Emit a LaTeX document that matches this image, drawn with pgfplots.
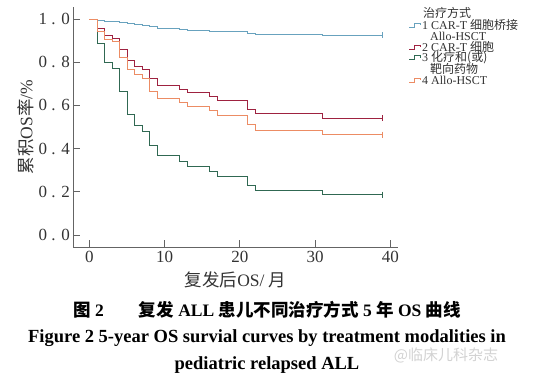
\documentclass[border=0pt]{standalone}
\usepackage{fontspec}
\setmainfont{Liberation Serif}
\newfontfamily\cjk{Noto Sans CJK SC}
\usepackage{pgfplots}
\pgfplotsset{compat=1.18}
\definecolor{cblue}{RGB}{104,162,190}
\definecolor{cred}{RGB}{158,34,64}
\definecolor{corange}{RGB}{236,140,100}
\definecolor{cgreen}{RGB}{48,104,82}
\definecolor{axgray}{RGB}{100,100,100}
\begin{document}
\begin{tikzpicture}
\path[use as bounding box] (0pt,0pt) rectangle (534pt,-382pt);
\begin{axis}[
  at={(73.3pt,-247.3pt)}, anchor=south west,
  width=324.5pt, height=240.3pt, scale only axis,
  xmin=-2.15, xmax=41, ymin=-0.057, ymax=1.056,
  axis x line=bottom, axis y line=left,
  axis line style={-, axgray, line width=0.8pt},
  tick align=inside, major tick length=7pt,
  tick style={axgray, line width=0.8pt},
  xtick={0,10,20,30,40},
  ytick={0,0.2,0.4,0.6,0.8,1.0},
  yticklabels={0 . 0,0 . 2,0 . 4,0 . 6,0 . 8,1 . 0},
  /pgf/number format/assume math mode=true,
  ticklabel style={font=\fontsize{17}{17}\selectfont, text=black!80},
  xlabel={{\cjk 复发后}OS/ {\cjk 月}},
  ylabel={{\cjk 累积}OS{\cjk 率}/\%},
  label style={font=\fontsize{17.5}{17.5}\selectfont, text=black!80},
  xlabel style={yshift=-3pt},
  ylabel style={yshift=-2pt},
  const plot mark left,
]
% 1 CAR-T + Allo-HSCT
\addplot[cblue, line width=0.8pt, const plot] coordinates {
(0,1)(1,0.995)(2,0.991)(3,0.987)(4,0.983)(5,0.979)(6,0.975)(7,0.970)(8,0.965)(9,0.958)(10,0.955)(12,0.952)(13,0.949)(16,0.945)(17,0.941)(21,0.934)(22,0.929)(31,0.925)(38.9,0.925)};
% 2 CAR-T
\addplot[cred, line width=0.8pt, const plot] coordinates {
(0,1)(1,0.957)(2,0.923)(3,0.910)(4,0.858)(5,0.807)(6,0.782)(7,0.765)(8,0.725)(9,0.692)(12,0.675)(13,0.659)(16,0.643)(17,0.623)(21,0.582)(22,0.563)(31,0.540)(38.9,0.540)};
% 3 chemo
\addplot[cgreen, line width=0.8pt, const plot] coordinates {
(0,1)(1,0.887)(2,0.800)(3,0.772)(4,0.664)(5,0.559)(6,0.508)(7,0.482)(8,0.413)(9,0.367)(12,0.340)(13,0.319)(16,0.293)(17,0.273)(21,0.228)(22,0.206)(31,0.187)(38.9,0.187)};
% 4 Allo-HSCT
\addplot[corange, line width=0.8pt, const plot] coordinates {
(0,1)(1,0.944)(2,0.906)(3,0.895)(4,0.824)(5,0.768)(6,0.742)(7,0.724)(8,0.664)(9,0.632)(12,0.613)(13,0.594)(16,0.575)(17,0.554)(21,0.512)(22,0.483)(31,0.465)(38.9,0.465)};
% censor marks
\addplot[cblue, only marks, mark=|, mark size=3pt] coordinates {(38.9,0.925)};
\addplot[cred, only marks, mark=|, mark size=3pt] coordinates {(38.9,0.540)};
\addplot[cgreen, only marks, mark=|, mark size=3pt] coordinates {(38.9,0.187)};
\addplot[corange, only marks, mark=|, mark size=3pt] coordinates {(38.9,0.465)};
\end{axis}
% legend (key symbols and labels)
\begin{scope}[every node/.style={anchor=base west, inner sep=0pt, font=\fontsize{12}{12}\selectfont, text=black!80}]
\node at (423pt,-18pt) {{\cjk 治疗方式}};
\node at (422pt,-29.3pt) {1 CAR-T {\cjk 细胞桥接}};
\node at (430pt,-40.6pt) {Allo-HSCT};
\node at (422pt,-51.3pt) {2 CAR-T {\cjk 细胞}};
\node at (422pt,-62pt) {3 {\cjk 化疗和(或)}};
\node at (430pt,-73.3pt) {{\cjk 靶向药物}};
\node at (422pt,-84.3pt) {4 Allo-HSCT};
\end{scope}
\foreach \yy/\cc in {25/cblue,47/cred,57.7/cgreen,80/corange}{
  \draw[\cc, line width=0.7pt] (409pt,-\yy pt-2pt) -- (414pt,-\yy pt-2pt) -- (414pt,-\yy pt+2pt) -- (420pt,-\yy pt+2pt) -- (420pt,-\yy pt);
}
\node[font=\fontsize{17.5}{17.5}\selectfont\bfseries] at (267pt,-310pt)
  {{\cjk\bfseries 图}~2\qquad{\cjk\bfseries 复发}~ALL~{\cjk\bfseries 患儿不同治疗方式}~5~{\cjk\bfseries 年}~OS~{\cjk\bfseries 曲线}};
\node[font=\fontsize{18.5}{18.5}\selectfont\bfseries] at (267pt,-338pt)
  {Figure 2 5-year OS survial curves by treatment modalities in};
\node[font=\fontsize{18.5}{18.5}\selectfont\bfseries] at (267pt,-365pt)
  {pediatric relapsed ALL};
\node[font=\fontsize{15}{15}\selectfont\cjk, text=gray!35] at (446pt,-355pt) {@临床儿科杂志};
\end{tikzpicture}
\end{document}
